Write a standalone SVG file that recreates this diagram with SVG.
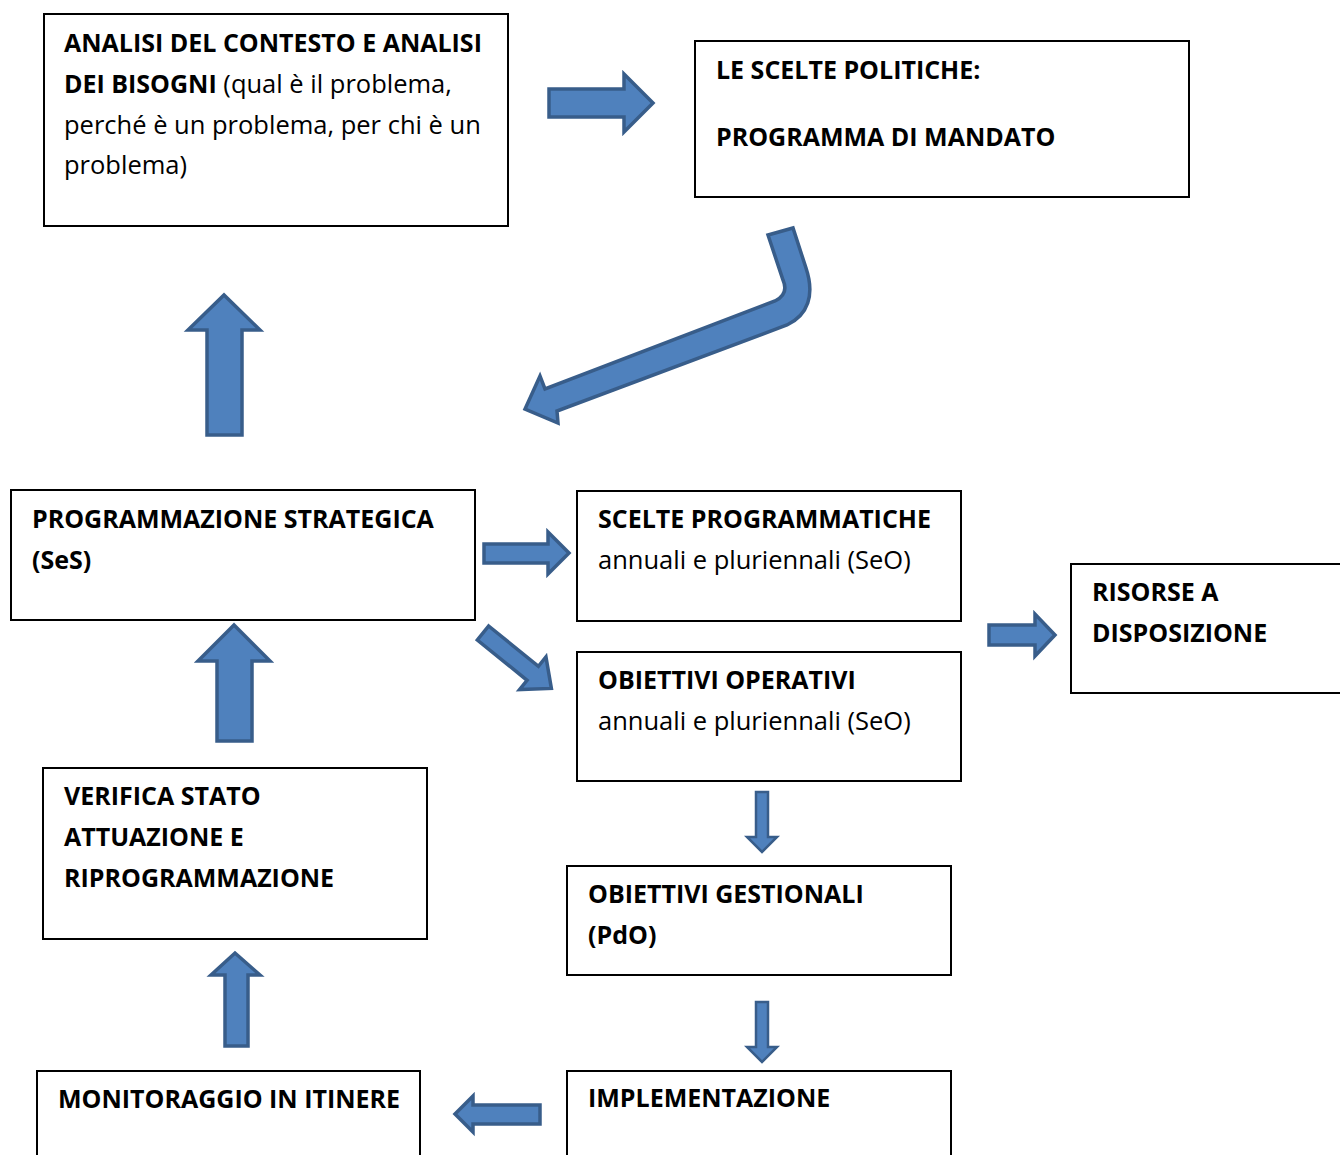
<svg xmlns="http://www.w3.org/2000/svg" width="1340" height="1155" viewBox="0 0 1340 1155">
<style>
.box{fill:#fff;stroke:#000;stroke-width:2}
.t{font-family:"Open Sans","Liberation Sans",sans-serif;font-size:25.5px;fill:#000}
.b{font-weight:bold;font-size:25px}
.arr{fill:#4f81bd;stroke:#385d8a;stroke-width:3.5;stroke-linejoin:miter}
.arr2{fill:#4f81bd;stroke:#385d8a;stroke-width:2.5;stroke-linejoin:miter}
</style>
<rect width="1340" height="1155" fill="#fff"/>
<g id="connectors">
<path class="arr" d="M549,89 L624,89 L624,74 L653,103 L624,132 L624,117 L549,117 Z"/>
<path class="arr" d="M768,235 L793,228 L806,268 C815,295 808,315 787,325 L557,411 L558,423 L525,409 L540,376 L545,389 L775,301 C785,296 787,289 783,280 Z"/>
<path class="arr" d="M207,435 L207,330 L188,330 L224,295 L260,330 L242,330 L242,435 Z"/>
<path class="arr" d="M484,544 L548,544 L548,532 L569,553 L548,574 L548,563 L484,563 Z"/>
<path class="arr" transform="translate(483,633) rotate(39)" d="M0,-9 L64,-9 L64,-21 L88,0 L64,21 L64,9 L0,9 Z"/>
<path class="arr" d="M989,625 L1035,625 L1035,614 L1055,635 L1035,656 L1035,645 L989,645 Z"/>
<path class="arr" d="M217,741 L217,661 L198,661 L234,625 L270,661 L252,661 L252,741 Z"/>
<path class="arr2" d="M756,792 L768,792 L768,837 L777,837 L762,852 L747,837 L756,837 Z"/>
<path class="arr" d="M225,1046 L225,975 L211,975 L235,953 L260,975 L248,975 L248,1046 Z"/>
<path class="arr" d="M540,1105 L473,1105 L473,1096 L455,1114 L473,1132 L473,1124 L540,1124 Z"/>
<path class="arr2" d="M756,1002 L768,1002 L768,1047 L777,1047 L762,1062 L747,1047 L756,1047 Z"/>
</g>
<g id="node-analisi">
<rect class="box" x="44" y="14" width="464" height="212"/>
<text class="t b" x="64" y="52">ANALISI DEL CONTESTO E ANALISI</text>
<text class="t" x="64" y="93"><tspan class="b">DEI BISOGNI</tspan> (qual è il problema,</text>
<text class="t" x="64" y="134">perché è un problema, per chi è un</text>
<text class="t" x="64" y="174">problema)</text>
</g>
<g id="node-scelte-politiche">
<rect class="box" x="695" y="41" width="494" height="156"/>
<text class="t b" x="716" y="79">LE SCELTE POLITICHE:</text>
<text class="t b" x="716" y="146">PROGRAMMA DI MANDATO</text>
</g>
<g id="node-ses">
<rect class="box" x="11" y="490" width="464" height="130"/>
<text class="t b" x="32" y="528">PROGRAMMAZIONE STRATEGICA</text>
<text class="t b" x="32" y="569">(SeS)</text>
</g>
<g id="node-scelte-programmatiche">
<rect class="box" x="577" y="491" width="384" height="130"/>
<text class="t b" x="598" y="528">SCELTE PROGRAMMATICHE</text>
<text class="t" x="598" y="569">annuali e pluriennali (SeO)</text>
</g>
<g id="node-obiettivi-operativi">
<rect class="box" x="577" y="652" width="384" height="129"/>
<text class="t b" x="598" y="689">OBIETTIVI OPERATIVI</text>
<text class="t" x="598" y="730">annuali e pluriennali (SeO)</text>
</g>
<g id="node-risorse">
<rect class="box" x="1071" y="564" width="280" height="129"/>
<text class="t b" x="1092" y="601">RISORSE A</text>
<text class="t b" x="1092" y="642">DISPOSIZIONE</text>
</g>
<g id="node-verifica">
<rect class="box" x="43" y="768" width="384" height="171"/>
<text class="t b" x="64" y="805">VERIFICA STATO</text>
<text class="t b" x="64" y="846">ATTUAZIONE E</text>
<text class="t b" x="64" y="887">RIPROGRAMMAZIONE</text>
</g>
<g id="node-obiettivi-gestionali">
<rect class="box" x="567" y="866" width="384" height="109"/>
<text class="t b" x="588" y="903">OBIETTIVI GESTIONALI</text>
<text class="t b" x="588" y="944">(PdO)</text>
</g>
<g id="node-monitoraggio">
<rect class="box" x="37" y="1071" width="383" height="100"/>
<text class="t b" x="58" y="1108">MONITORAGGIO IN ITINERE</text>
</g>
<g id="node-implementazione">
<rect class="box" x="567" y="1071" width="384" height="100"/>
<text class="t b" x="588" y="1107">IMPLEMENTAZIONE</text>
</g>
</svg>
